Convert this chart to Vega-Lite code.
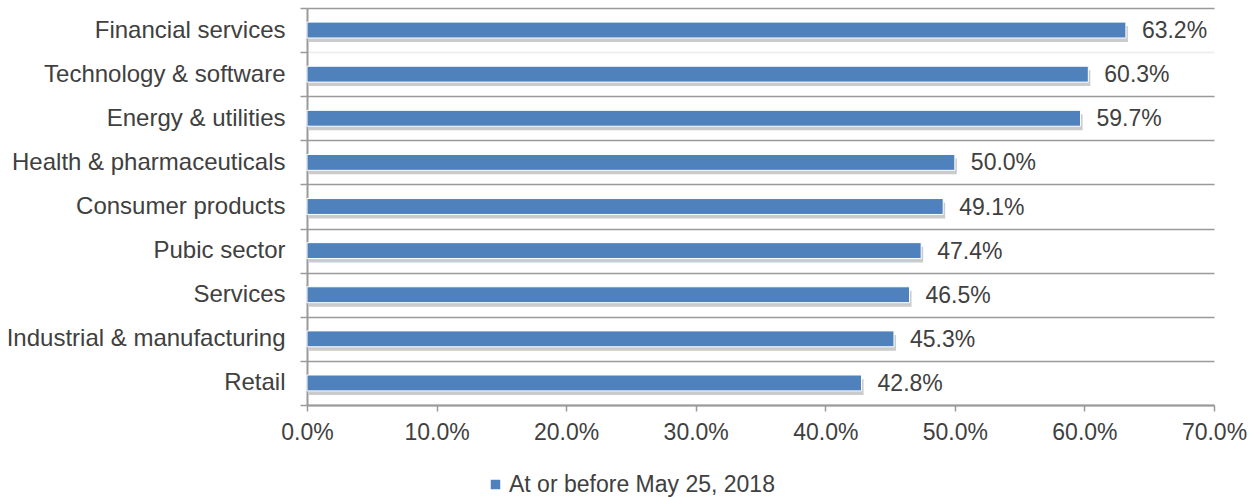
{
  "$schema": "https://vega.github.io/schema/vega-lite/v6.json",
  "autosize": {"type": "none"},
  "width": 907,
  "height": 397,
  "padding": {"left": 307, "top": 8, "right": 40, "bottom": 92},
  "background": "#ffffff",
  "config": {
    "view": {"stroke": null},
    "font": "Liberation Sans",
    "axis": {"labelFont": "Liberation Sans", "labelColor": "#404040", "labelFontSize": 23, "domainColor": "#9a9a9a", "tickColor": "#9a9a9a", "domainWidth": 2, "tickWidth": 1.5, "labelLimit": 400}
  },
  "data": {
    "values": [
      {"sector": "Financial services", "value": 0.632, "series": "At or before May 25, 2018"},
      {"sector": "Technology & software", "value": 0.603, "series": "At or before May 25, 2018"},
      {"sector": "Energy & utilities", "value": 0.597, "series": "At or before May 25, 2018"},
      {"sector": "Health & pharmaceuticals", "value": 0.500, "series": "At or before May 25, 2018"},
      {"sector": "Consumer products", "value": 0.491, "series": "At or before May 25, 2018"},
      {"sector": "Pubic sector", "value": 0.474, "series": "At or before May 25, 2018"},
      {"sector": "Services", "value": 0.465, "series": "At or before May 25, 2018"},
      {"sector": "Industrial & manufacturing", "value": 0.453, "series": "At or before May 25, 2018"},
      {"sector": "Retail", "value": 0.428, "series": "At or before May 25, 2018"}
    ]
  },
  "encoding": {
    "y": {
      "field": "sector", "type": "nominal", "sort": null,
      "scale": {"paddingInner": 0, "paddingOuter": 0},
      "axis": {"title": null, "tickBand": "extent", "grid": true, "gridColor": {"condition": {"test": "datum.index === 0", "value": "#ececec"}, "value": "#9a9a9a"}, "gridWidth": 1.5, "tickSize": 7, "labelPadding": 15, "labelFontSize": 24, "domain": true}
    },
    "x": {
      "field": "value", "type": "quantitative",
      "scale": {"domain": [0, 0.7], "nice": false},
      "axis": {"title": null, "format": ".1%", "values": [0, 0.1, 0.2, 0.3, 0.4, 0.5, 0.6, 0.7], "grid": false, "tickSize": 6, "labelPadding": 10, "labelOverlap": false, "labelFlush": false}
    }
  },
  "layer": [
    {
      "mark": {"type": "bar", "color": "#a8a8a8", "opacity": 0.6, "yOffset": 4, "xOffset": 2, "height": {"band": 0.36}},
      "encoding": {}
    },
    {
      "mark": {"type": "bar", "stroke": "#ffffff", "strokeWidth": 1, "height": {"band": 0.36}},
      "encoding": {
        "color": {
          "field": "series", "type": "nominal",
          "scale": {"range": ["#4F81BD"]},
          "legend": {"title": null, "orient": "none", "legendX": 177, "legendY": 465, "symbolType": "square", "symbolSize": 90, "symbolStrokeWidth": 0, "labelFontSize": 23, "labelColor": "#404040", "labelFont": "Liberation Sans", "labelOffset": 2, "labelLimit": 500}
        }
      }
    },
    {
      "mark": {"type": "text", "align": "left", "dx": 16, "dy": 1, "fontSize": 23, "color": "#404040", "font": "Liberation Sans"},
      "encoding": {"text": {"field": "value", "format": ".1%"}}
    }
  ]
}
